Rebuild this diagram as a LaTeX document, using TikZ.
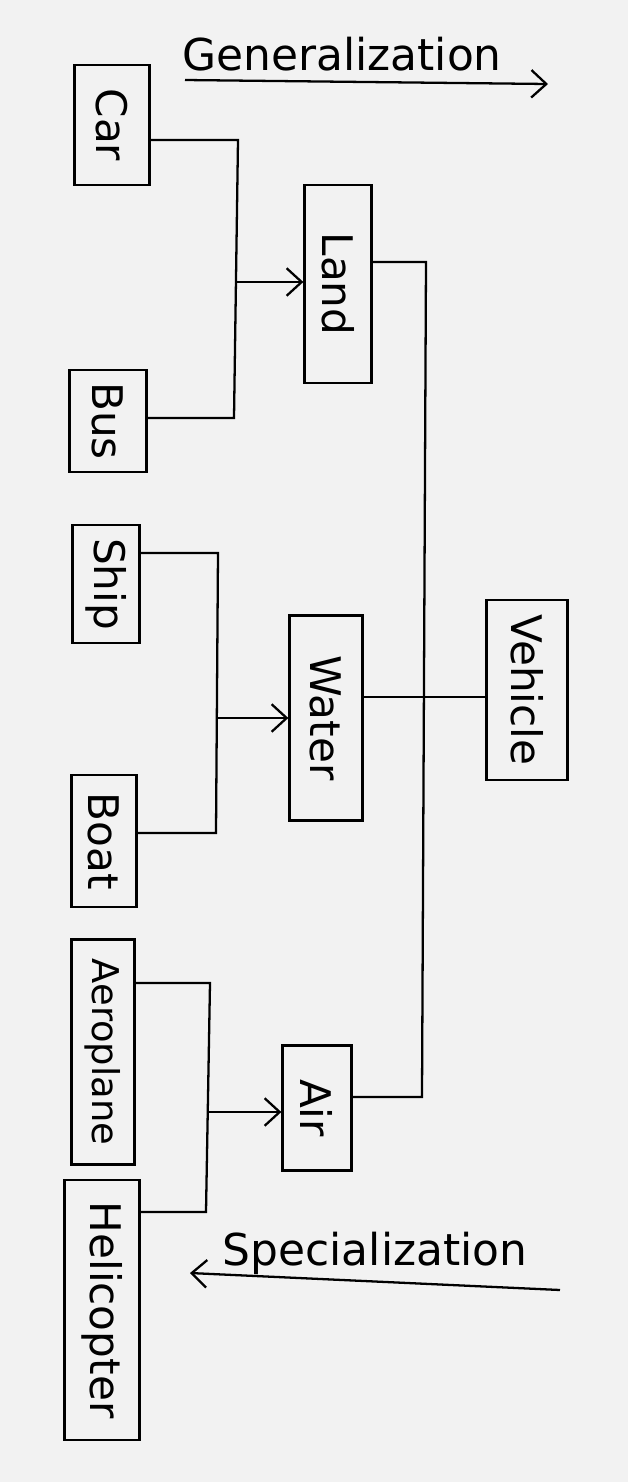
\documentclass[tikz,border=0pt]{standalone}
\usepackage{fontspec}
\newfontfamily\hand{DejaVu Sans}
\usetikzlibrary{arrows.meta}
\definecolor{paper}{gray}{0.95}
\tikzset{
  box/.style={draw, line width=1.3pt, inner sep=0pt, anchor=center},
  lbl/.style={rotate=-90, font=\hand\fontsize{24}{28}\selectfont},
  lblsmall/.style={rotate=-90, font=\hand\fontsize{21}{25}\selectfont},
  conn/.style={line width=1.3pt},
  arr/.style={line width=1.3pt, -{Straight Barb[length=0.3cm,width=0.55cm,line width=1.3pt]}},
  title/.style={font=\hand\fontsize{25}{28}\selectfont},
}
\begin{document}
\begin{tikzpicture}[x=0.02cm,y=-0.02cm]
\fill[paper] (0,0) rectangle (628,1482);
\useasboundingbox (0,0) rectangle (628,1482);
% boxes
\node[box, minimum width=1.5cm, minimum height=2.4cm] (car) at (112,125) {};
\node[lbl] at (car) {Car};
\node[box, minimum width=1.54cm, minimum height=2.04cm] (bus) at (108,421) {};
\node[lbl] at (bus) {Bus};
\node[box, minimum width=1.34cm, minimum height=3.96cm] (land) at (338,284) {};
\node[lbl] at (land) {Land};
\node[box, minimum width=1.34cm, minimum height=2.36cm] (ship) at (106,584) {};
\node[lbl] at (ship) {Ship};
\node[box, minimum width=1.46cm, minimum height=4.1cm] (water) at (326,718) {};
\node[lbl] at (water) {Water};
\node[box, minimum width=1.62cm, minimum height=3.6cm] (vehicle) at (527,690) {};
\node[lbl] at (vehicle) {Vehicle};
\node[box, minimum width=1.3cm, minimum height=2.64cm] (boat) at (104,841) {};
\node[lbl] at (boat) {Boat};
\node[box, minimum width=1.26cm, minimum height=4.5cm] (aeroplane) at (103,1052) {};
\node[lblsmall] at (aeroplane) {Aeroplane};
\node[box, minimum width=1.38cm, minimum height=2.5cm] (air) at (317,1108) {};
\node[lbl] at (air) {Air};
\node[box, minimum width=1.5cm, minimum height=5.2cm] (helicopter) at (102,1310) {};
\node[lbl] at (helicopter) {Helicopter};
% junctions
\coordinate (jc1) at (238,140);
\coordinate (jc2) at (234,418);
\coordinate (jc3) at (236,282);
\coordinate (js1) at (218,553);
\coordinate (js2) at (216,833);
\coordinate (js3) at (217,718);
\coordinate (ja1) at (210,983);
\coordinate (ja2) at (206,1212);
\coordinate (ja3) at (208,1112);
\coordinate (jl1) at (426,262);
\coordinate (jl2) at (422,1097);
\coordinate (jv) at (424,697);
% connectors
\draw[conn] (car.east |- jc1) -- (jc1) -- (jc2) -- (bus.east |- jc2);
\draw[arr] (jc3) -- (land.west |- jc3);
\draw[conn] (ship.east |- js1) -- (js1) -- (js2) -- (boat.east |- js2);
\draw[arr] (js3) -- (water.west |- js3);
\draw[conn] (aeroplane.east |- ja1) -- (ja1) -- (ja2) -- (helicopter.east |- ja2);
\draw[arr] (ja3) -- (air.west |- ja3);
\draw[conn] (land.east |- jl1) -- (jl1) -- (jl2) -- (air.east |- jl2);
\draw[conn] (water.east |- jv) -- (vehicle.west |- jv);
% generalization / specialization
\coordinate (g1) at (185,80);
\coordinate (g2) at (548,84);
\draw[arr] (g1) -- (g2);
\node[title, anchor=base] (gen) at (342,70) {Generalization};
\coordinate (s1) at (560,1290);
\coordinate (s2) at (190,1273);
\draw[arr] (s1) -- (s2);
\node[title, anchor=base] (spec) at (375,1265) {Specialization};
\end{tikzpicture}
\end{document}
